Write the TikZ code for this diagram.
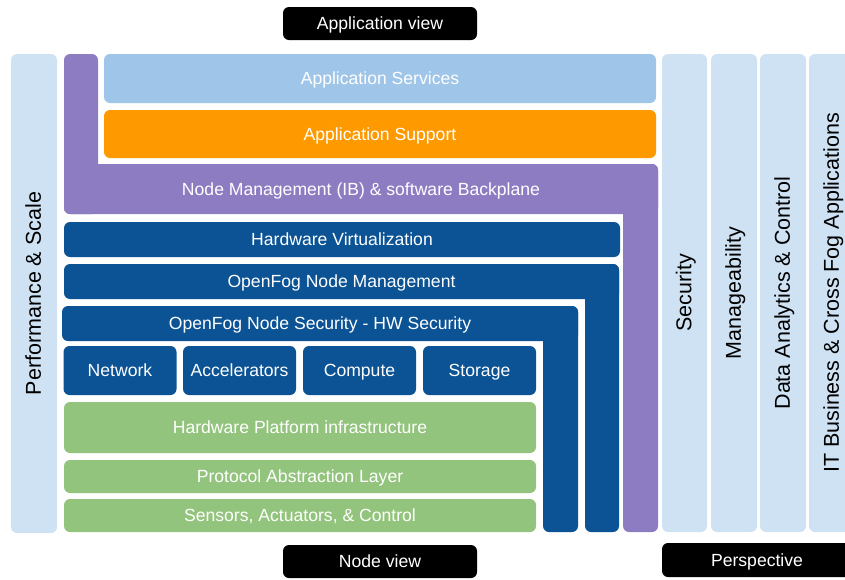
\documentclass[tikz,border=0pt]{standalone}
\usepackage{fontspec}
\setmainfont{Liberation Sans}
\usepackage{xcolor}
\definecolor{paleBlue}{HTML}{CFE2F3}
\definecolor{skyBlue}{HTML}{9FC5E8}
\definecolor{fogOrange}{HTML}{FF9900}
\definecolor{lavender}{HTML}{8E7CC3}
\definecolor{navy}{HTML}{0B5394}
\definecolor{sage}{HTML}{93C47D}

\begin{document}
\begin{tikzpicture}[x = 1pt, y = -1pt,
		block/.style = {rounded corners = 6pt, inner sep = 0pt, text = white, font = \fontsize{17.6}{20}\selectfont, text height = 12.5pt, text depth = 0pt},
		view/.style = {block, fill = black},
		column/.style = {block, fill = paleBlue, text = black, rotate = 90, minimum height = 46pt, font = \fontsize{21.5}{24}\selectfont, text height = 15.5pt, text depth = 2pt}]
		\path[use as bounding box, clip] (0,0) rectangle (845,579);

		% views
		\node[view, minimum width = 194pt, minimum height = 33pt] (appView) at (380,23.5) {Application view};
		\node[view, minimum width = 194pt, minimum height = 33pt] (nodeView) at (380,561.5) {Node view};
		\node[view, minimum width = 190pt, minimum height = 34pt] (perspective) at (757,560) {Perspective};

		% side columns
		\node[column, minimum width = 479pt] (perfScale) at (34,293.5) {Performance \& Scale};
		\node[column, minimum width = 478pt, minimum height = 45pt] (security) at (684.5,293) {Security};
		\node[column, minimum width = 478pt] (manage) at (734,293) {Manageability};
		\node[column, minimum width = 478pt] (analytics) at (783,293) {Data Analytics \& Control};
		\node[column, minimum width = 478pt] (itBusiness) at (832,293) {IT Business \& Cross Fog Applications};

		% application layers
		\node[block, fill = skyBlue, minimum width = 552pt, minimum height = 49pt] (appServices) at (380,78.5) {Application Services};
		\node[block, fill = fogOrange, minimum width = 552pt, minimum height = 48pt] (appSupport) at (380,134) {Application Support};

		% node management backplane
		\begin{scope}[rounded corners = 6pt]
			\fill[lavender] (64,54) rectangle (98,214);
			\fill[lavender] (623,164) rectangle (658,532);
			\fill[navy] (585,264) rectangle (619,532);
			\fill[navy] (543,306) rectangle (578,532);
		\end{scope}
		\node[block, fill = lavender, minimum width = 594pt, minimum height = 50pt] (nodeMgmt) at (361,189) {Node Management (IB) \& software Backplane};

		% node layers
		\node[block, fill = navy, minimum width = 556pt, minimum height = 35pt] (hwVirt) at (342,239.5) {Hardware Virtualization};
		\node[block, fill = navy, minimum width = 555pt, minimum height = 35pt] (ofNodeMgmt) at (341.5,281.5) {OpenFog Node Management};
		\node[block, fill = navy, minimum width = 516pt, minimum height = 35pt] (ofNodeSec) at (320,323.5) {OpenFog Node Security - HW Security};

		\node[block, fill = navy, minimum width = 113pt, minimum height = 49pt] (network) at (120,370.5) {Network};
		\node[block, fill = navy, minimum width = 113pt, minimum height = 49pt] (accel) at (239.5,370.5) {Accelerators};
		\node[block, fill = navy, minimum width = 113pt, minimum height = 49pt] (compute) at (359.5,370.5) {Compute};
		\node[block, fill = navy, minimum width = 113pt, minimum height = 49pt] (storage) at (479.5,370.5) {Storage};

		\node[block, fill = sage, minimum width = 472pt, minimum height = 51pt] (hwPlatform) at (300,427.5) {Hardware Platform infrastructure};
		\node[block, fill = sage, minimum width = 472pt, minimum height = 33pt] (protocol) at (300,476.5) {Protocol Abstraction Layer};
		\node[block, fill = sage, minimum width = 472pt, minimum height = 33pt] (sensors) at (300,515.5) {Sensors, Actuators, \& Control};
	\end{tikzpicture}
\end{document}
